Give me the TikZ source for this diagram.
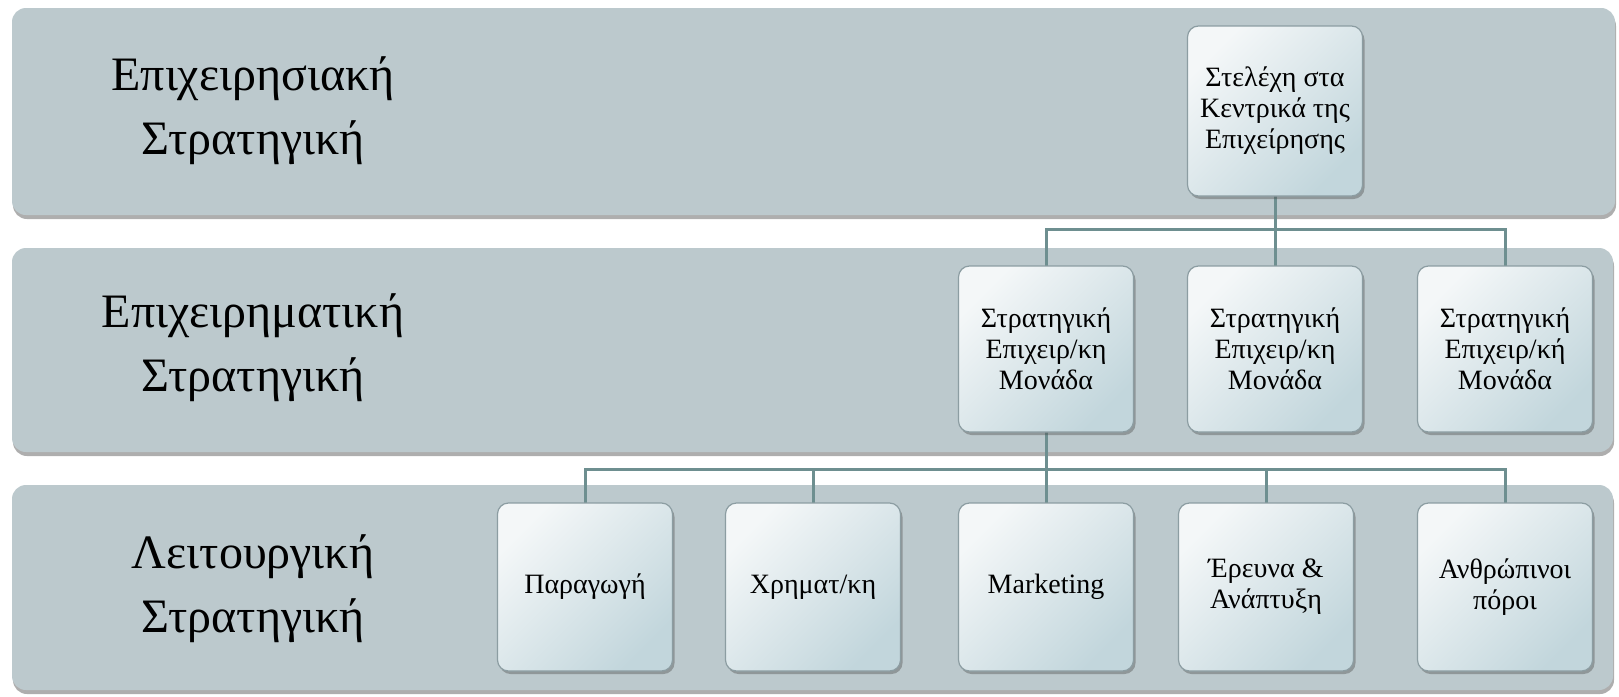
\documentclass[tikz,border=0pt]{standalone}
\usepackage{fontspec}
\setmainfont{Liberation Serif}
\usetikzlibrary{shadows}
\definecolor{bandfill}{HTML}{BCC9CD}
\definecolor{boxedge}{HTML}{8C9DA2}
\definecolor{boxlight}{HTML}{F4F7F8}
\definecolor{boxdark}{HTML}{C2D6DC}
\definecolor{linkc}{HTML}{6E8F90}
\pgfdeclarelayer{bands}
\pgfdeclarelayer{links}
\pgfsetlayers{bands,links,main}
\begin{document}
\begin{tikzpicture}[x=1pt,y=-1pt,
  band/.style={fill=bandfill, rounded corners=14pt, inner sep=0pt, outer sep=0pt,
    drop shadow={shadow xshift=1pt, shadow yshift=-4pt, opacity=0.45, fill=black!70}},
  unit/.style={draw=boxedge, line width=1.2pt, rounded corners=11pt,
    top color=boxlight, bottom color=boxdark, shading angle=45,
    minimum width=175pt, align=center, inner sep=2pt, outer sep=0pt,
    font=\fontsize{28}{31}\selectfont,
    drop shadow={shadow xshift=2pt, shadow yshift=-3pt, opacity=0.4, fill=black!70}},
  level/.style={align=center, font=\fontsize{48}{64}\selectfont},
  link/.style={draw=linkc, line width=3pt}]
\useasboundingbox (0,0) rectangle (1619,696);

\begin{pgfonlayer}{bands}
\fill[white] (0,0) rectangle (1619,696);
\node[band, minimum width=1603pt, minimum height=207pt] (b1) at (813.5,111.5) {};
\node[band, minimum width=1601pt, minimum height=204pt] (b2) at (812.5,350) {};
\node[band, minimum width=1601pt, minimum height=205pt] (b3) at (812.5,587.5) {};
\end{pgfonlayer}

\node[level] (l1) at (253,111) {Επιχειρησιακή\\Στρατηγική};
\node[level] (l2) at (253,348) {Επιχειρηματική\\Στρατηγική};
\node[level] (l3) at (253,589) {Λειτουργική\\Στρατηγική};

\node[unit, minimum height=170pt] (top) at (1275,111) {Στελέχη στα\\Κεντρικά της\\Επιχείρησης};

\node[unit, minimum height=166pt] (u1) at (1046,349) {Στρατηγική\\Επιχειρ/κη\\Μονάδα};
\node[unit, minimum height=166pt] (u2) at (1275,349) {Στρατηγική\\Επιχειρ/κη\\Μονάδα};
\node[unit, minimum height=166pt] (u3) at (1505,349) {Στρατηγική\\Επιχειρ/κή\\Μονάδα};

\node[unit, minimum height=168pt] (f1) at (585,587) {Παραγωγή};
\node[unit, minimum height=168pt] (f2) at (813,587) {Χρηματ/κη};
\node[unit, minimum height=168pt] (f3) at (1046,587) {Marketing};
\node[unit, minimum height=168pt] (f4) at (1266,587) {Έρευνα \&\\Ανάπτυξη};
\node[unit, minimum height=168pt] (f5) at (1505,587) {Ανθρώπινοι\\πόροι};

\coordinate (j1) at (1275,229);
\coordinate (j2) at (1046,469);
\begin{pgfonlayer}{links}
\draw[link] (top.south) -- (u2.north);
\draw[link] (u1.north) -- (u1.north |- j1) -- (u3.north |- j1) -- (u3.north);
\draw[link] (u1.south) -- (f3.north);
\draw[link] (f1.north) -- (f1.north |- j2) -- (f5.north |- j2) -- (f5.north);
\draw[link] (f2.north) -- (f2.north |- j2);
\draw[link] (f4.north) -- (f4.north |- j2);
\end{pgfonlayer}
\end{tikzpicture}
\end{document}
